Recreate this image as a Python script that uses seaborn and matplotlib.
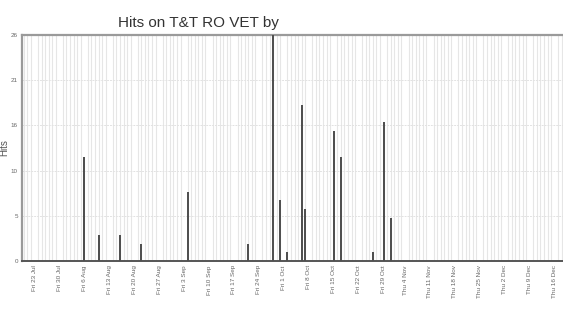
import numpy as np
import pandas as pd
import matplotlib
matplotlib.use("Agg")
import matplotlib.pyplot as plt
import seaborn as sns

# ── Data ─────────────────────────────────────────────────────────────────────
start_date = "2021-07-20"
end_date = "2021-12-18"

hit_dates = [
    "2021-08-06", "2021-08-10", "2021-08-16", "2021-08-22", "2021-09-04",
    "2021-09-21", "2021-09-28", "2021-09-30", "2021-10-02", "2021-10-06",
    "2021-10-07", "2021-10-15", "2021-10-17", "2021-10-26", "2021-10-29",
    "2021-10-31",
]
hit_counts = [12, 3, 3, 2, 8, 2, 26, 7, 1, 18, 6, 15, 12, 1, 16, 5]

tick_dates = [
    "2021-07-23", "2021-07-30", "2021-08-06", "2021-08-13", "2021-08-20",
    "2021-08-27", "2021-09-03", "2021-09-10", "2021-09-17", "2021-09-24",
    "2021-10-01", "2021-10-08", "2021-10-15", "2021-10-22", "2021-10-29",
    "2021-11-04", "2021-11-11", "2021-11-18", "2021-11-25", "2021-12-02",
    "2021-12-09", "2021-12-16",
]
tick_labels = [
    "Fri 23 Jul", "Fri 30 Jul", "Fri 6 Aug", "Fri 13 Aug", "Fri 20 Aug",
    "Fri 27 Aug", "Fri 3 Sep", "Fri 10 Sep", "Fri 17 Sep", "Fri 24 Sep",
    "Fri 1 Oct", "Fri 8 Oct", "Fri 15 Oct", "Fri 22 Oct", "Fri 29 Oct",
    "Thu 4 Nov", "Thu 11 Nov", "Thu 18 Nov", "Thu 25 Nov", "Thu 2 Dec",
    "Thu 9 Dec", "Thu 16 Dec",
]
y_max = 26
y_tick_labels = ["0", "5", "10", "16", "21", "26"]

# ── Build daily frame ────────────────────────────────────────────────────────
days = pd.date_range(start_date, end_date, freq="D")
df = pd.DataFrame({"date": days.strftime("%Y-%m-%d"), "hits": 0})
df = df.set_index("date")
df.loc[hit_dates, "hits"] = hit_counts
df = df.reset_index()

sns.set_theme(style="white")
plt.rcParams["font.family"] = ["Liberation Sans", "DejaVu Sans"]

fig = plt.figure(figsize=(5.63, 3.13), dpi=100)
ax = fig.add_axes([0.039, 0.166, 0.962, 0.722])

sns.barplot(data=df, x="date", y="hits", order=list(df["date"]),
            color="#505050", width=0.55, saturation=1, ax=ax,
            edgecolor="none", linewidth=0, zorder=3)

n = len(df)
ax.set_xlim(-0.5, n - 0.5)
ax.set_ylim(0, y_max)

# daily vertical grid
ax.set_xticks(np.arange(n), minor=True)
ax.grid(which="minor", axis="x", color="#e6e6e6", linewidth=0.8, zorder=0)
ax.set_axisbelow(True)

pos = [list(df["date"]).index(d) for d in tick_dates]
ax.set_xticks(pos)
ax.set_xticklabels(tick_labels, rotation=90, fontsize=4.6, color="#666666")

yt = np.linspace(0, y_max, len(y_tick_labels))
ax.set_yticks(yt)
ax.set_yticklabels(y_tick_labels, fontsize=4.5, color="#666666")
ax.grid(which="major", axis="y", color="#e2e2e2", linewidth=0.7,
        linestyle=(0, (2, 1)), zorder=0)
ax.grid(which="major", axis="x", visible=False)

ax.tick_params(axis="both", which="both", length=0, pad=3)

for side in ["left", "top"]:
    ax.spines[side].set_color("#9a9a9a")
    ax.spines[side].set_linewidth(1.6)
ax.spines["bottom"].set_color("#555555")
ax.spines["bottom"].set_linewidth(1.4)
ax.spines["right"].set_visible(False)

ax.set_xlabel("")
ax.set_ylabel("Hits", fontsize=7, color="#555555", labelpad=1)

fig.text(0.353, 0.926, "Hits on T&T RO VET by", ha="center", va="center",
         fontsize=11, color="#333333")

fig.savefig("out.png", dpi=100, facecolor="white")
